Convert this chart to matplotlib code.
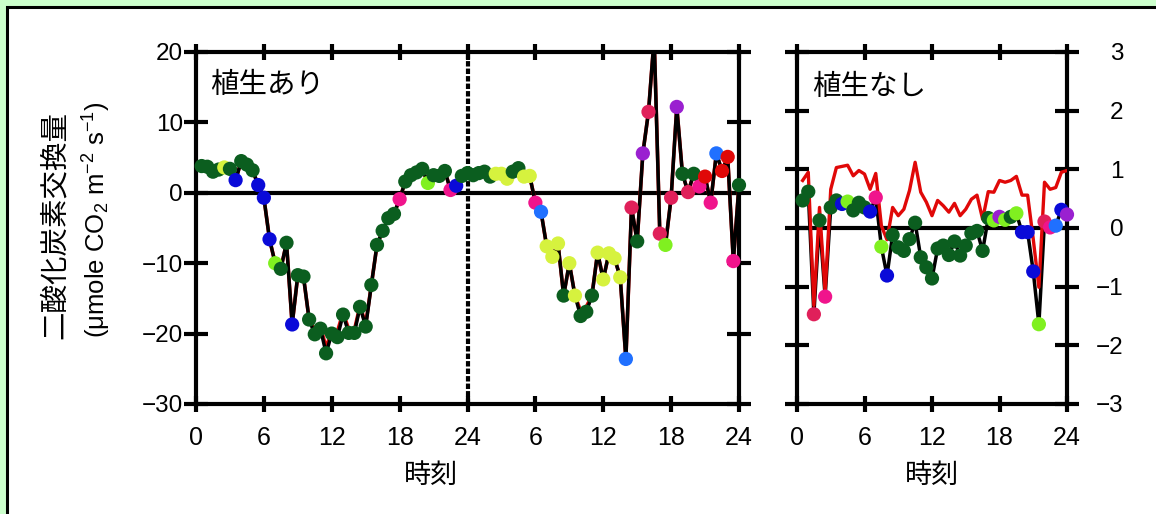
import matplotlib
matplotlib.use('Agg')
import matplotlib.pyplot as plt
from matplotlib.patches import Rectangle
from matplotlib.transforms import Bbox, TransformedBbox
import numpy as np

plt.rcParams['font.family'] = ['Noto Sans CJK JP', 'DejaVu Sans']
plt.rcParams['mathtext.fontset'] = 'custom'
plt.rcParams['mathtext.rm'] = 'Liberation Sans'
plt.rcParams['mathtext.it'] = 'Liberation Sans:italic'

# half-hourly CO2 flux, vegetated plot (two days)
ari_day1 = [3.8, 3.7, 3.0, 3.3, 3.6, 3.4, 1.8, 4.5, 4.0, 3.2, 1.1, -0.7,
            -6.6, -10.0, -10.8, -7.1, -18.7, -11.7, -11.9, -18.0, -20.1, -19.3, -22.8, -20.0,
            -20.5, -17.3, -19.9, -19.9, -16.2, -19.0, -13.1, -7.4, -5.4, -3.6, -3.0, -0.9,
            1.6, 2.5, 2.9, 3.4, 1.4, 2.5, 2.4, 3.1, 0.4, 1.0, 2.4, 2.8]
ari_day2 = [2.5, 2.8, 3.0, 2.3, 2.7, 2.7, 2.0, 3.0, 3.5, 2.3, 2.4, -1.4,
            -2.7, -7.6, -9.1, -7.2, -14.6, -10.0, -14.6, -17.5, -16.9, -14.6, -8.5, -12.3,
            -8.6, -9.3, -12.0, -23.6, -2.1, -6.9, 5.6, 11.5, 22.0, -5.8, -7.4, -0.7,
            12.2, 2.7, 0.1, 2.7, 0.9, 2.3, -1.4, 5.6, 3.1, 5.1, -9.7, 1.1]
# red series (almost identical, shows as fringe)
ari_red1 = [3.8, 3.7, 3.0, 3.3, 3.6, 3.4, 1.8, 4.5, 4.0, 3.2, 1.1, -0.7,
            -6.6, -10.0, -10.8, -7.1, -18.7, -11.7, -11.9, -18.0, -19.5, -19.0, -22.0, -19.6,
            -19.7, -17.0, -19.4, -19.5, -16.0, -18.7, -13.1, -7.4, -5.4, -3.6, -3.0, -0.9,
            1.6, 2.5, 2.9, 3.4, 1.4, 2.5, 2.4, 3.1, 0.4, 1.0, 2.4, 2.8]
ari_red2 = [2.5, 2.8, 3.0, 2.3, 2.7, 2.7, 2.0, 3.0, 3.5, 2.3, 2.4, -1.4,
            -2.7, -7.6, -9.1, -7.2, -14.6, -10.0, -14.6, -16.8, -16.2, -14.6, -8.5, -12.3,
            -8.6, -9.3, -12.0, -23.6, -2.1, -6.9, 5.6, 11.5, 22.0, -5.8, -7.4, -0.7,
            12.2, 2.7, 0.1, 2.7, 0.9, 2.3, -1.4, 5.6, 3.1, 5.1, -9.7, 1.1]
# marker colour class per point
ari_cls1 = ('ggggygbggg' + 'bbblggb' + 'gggggggggggggggggg' + 'p' + 'gggg'
            + 'l' + 'ggg' + 'p' + 'b' + 'gg')
ari_cls2 = ('ggggyyyggyy' + 'ps' + 'yyy' + 'g' + 'yy' + 'ggg' + 'yyyyy' + 's'
            + 'cgvccclcvgcg' + 'prpsrrpg')

# bare plot (one day)
nashi_flux = [0.47, 0.62, -1.47, 0.13, -1.17, 0.35, 0.47, 0.41, 0.45, 0.30, 0.43, 0.35,
              0.28, 0.52, -0.32, -0.81, -0.12, -0.33, -0.39, -0.19, 0.09, -0.50, -0.67, -0.86,
              -0.35, -0.30, -0.46, -0.23, -0.47, -0.30, -0.09, -0.05, -0.39, 0.17, 0.13, 0.19,
              0.14, 0.19, 0.25, -0.07, -0.07, -0.74, -1.64, 0.11, 0.01, 0.04, 0.31, 0.23]
nashi_red = [0.81, 0.95, -1.32, 0.35, -1.10, 0.66, 1.03, 1.05, 1.07, 0.89, 0.98, 0.92,
             0.66, 0.93, 0.04, -0.20, 0.35, 0.21, 0.32, 0.64, 1.12, 0.61, 0.44, 0.21,
             0.47, 0.38, 0.27, 0.42, 0.21, 0.32, 0.49, 0.56, 0.15, 0.62, 0.61, 0.81,
             0.78, 0.81, 0.88, 0.56, 0.56, -0.19, -1.01, 0.78, 0.66, 0.69, 0.95, 0.98]
nashi_cls = ('ggcgpggbl' + 'ggg' + 'bplb' + 'gggggggggggggggggg' + 'lvlgl' + 'bbb'
             + 'lcpsbv')

palette = {'g': '#0b5e1f', 'b': '#0a0ad8', 'y': '#d6f23e', 'l': '#80f020',
           'p': '#f0148c', 'c': '#e0205a', 'v': '#9a20d0', 's': '#2070ff',
           'r': '#e00808'}

t_day = np.arange(0.5, 24.01, 0.5)
t_two = np.concatenate([t_day, t_day + 24])
ari_flux = ari_day1 + ari_day2
ari_red = ari_red1 + ari_red2
ari_cls = ari_cls1 + ari_cls2

W, H = 1156, 514
fig = plt.figure(figsize=(W / 100, H / 100), dpi=100, facecolor='#ccffcc')
fig.add_artist(Rectangle((7 / W, -0.05), 1.2, 1.05 - 7 / H, transform=fig.transFigure,
                         facecolor='white', edgecolor='black', lw=2.2, zorder=-5))

ax1 = fig.add_axes([196 / W, 1 - 404 / H, 543 / W, 352 / H])
ax2 = fig.add_axes([797 / W, 1 - 404 / H, 270 / W, 352 / H])

num_font = ['Liberation Sans', 'DejaVu Sans']
narrow_font = ['Liberation Sans Narrow', 'Liberation Sans']

for ax in (ax1, ax2):
    for sp in ax.spines.values():
        sp.set_linewidth(3)
    ax.axhline(0, color='black', lw=3, zorder=1)
    ax.tick_params(axis='x', direction='inout', length=11, width=3, top=True,
                   pad=10, labelsize=18)
    ax.tick_params(axis='y', direction='inout', length=17, width=3, left=True,
                   right=True)


def dots(ax, x, y, cls):
    # markers may overhang the side spines but are cut at the top
    sc = ax.scatter(x, y, s=105, c=[palette[k] for k in cls], zorder=4, linewidths=0)
    sc.set_clip_box(TransformedBbox(Bbox([[-0.05, -0.05], [1.05, 1.0]]), ax.transAxes))
    return sc


# left panel
ax1.plot(t_two, ari_red, color='#e00808', lw=2.6, zorder=2)
ax1.plot(t_two, ari_flux, color='black', lw=2.5, zorder=3)
dots(ax1, t_two, ari_flux, ari_cls)
ax1.axvline(24, color='black', lw=3, dashes=(1.3, 0.5), zorder=2)
ax1.set_xlim(0, 48)
ax1.set_ylim(-30, 20)
ax1.set_xticks(np.arange(0, 49, 6))
ax1.set_xticklabels(['0', '6', '12', '18', '24', '6', '12', '18', '24'],
                    family=narrow_font)
ax1.set_yticks(np.arange(-30, 21, 10))
ax1.set_yticklabels(['\u221230', '\u221220', '\u221210', '0', '10', '20'],
                    family=num_font, fontsize=17.5)
ax1.tick_params(axis='y', pad=1)
ax1.text(0.026, 0.905, '植生あり', transform=ax1.transAxes, fontsize=20.5,
         ha='left', va='center')

# right panel
ax2.plot(t_day, nashi_flux, color='black', lw=2.5, zorder=2)
ax2.plot(t_day, nashi_red, color='#e00808', lw=2.4, zorder=3)
dots(ax2, t_day, nashi_flux, nashi_cls)
ax2.set_xlim(0, 24)
ax2.set_ylim(-3, 3)
ax2.set_xticks(np.arange(0, 25, 6))
ax2.set_xticklabels(['0', '6', '12', '18', '24'], family=narrow_font)
ax2.set_yticks(np.arange(-3, 4, 1))
ax2.tick_params(axis='y', labelleft=False, labelright=True, pad=32)
ax2.set_yticklabels(['\u22123', '\u22122', '\u22121', '0', '1', '2', '3'],
                    family=num_font, fontsize=17.5)
for lab in ax2.get_yticklabels():
    lab.set_ha('right')
ax2.text(0.056, 0.9, '植生なし', transform=ax2.transAxes, fontsize=20.5,
         ha='left', va='center')

# axis titles
fig.text(431 / W, 1 - 475 / H, '時刻', fontsize=19.5, ha='center', va='center')
fig.text(932 / W, 1 - 475 / H, '時刻', fontsize=19.5, ha='center', va='center')
fig.text(55 / W, 1 - 225 / H, '二酸化炭素交換量', fontsize=20.5, rotation=90,
         ha='center', va='center')
fig.text(97 / W, 1 - 220 / H, '(μmole CO$_2$ m$^{-2}$ s$^{-1}$)', fontsize=18.5,
         rotation=90, ha='center', va='center', family=num_font)

fig.savefig('out.png', dpi=100, facecolor=fig.get_facecolor())
